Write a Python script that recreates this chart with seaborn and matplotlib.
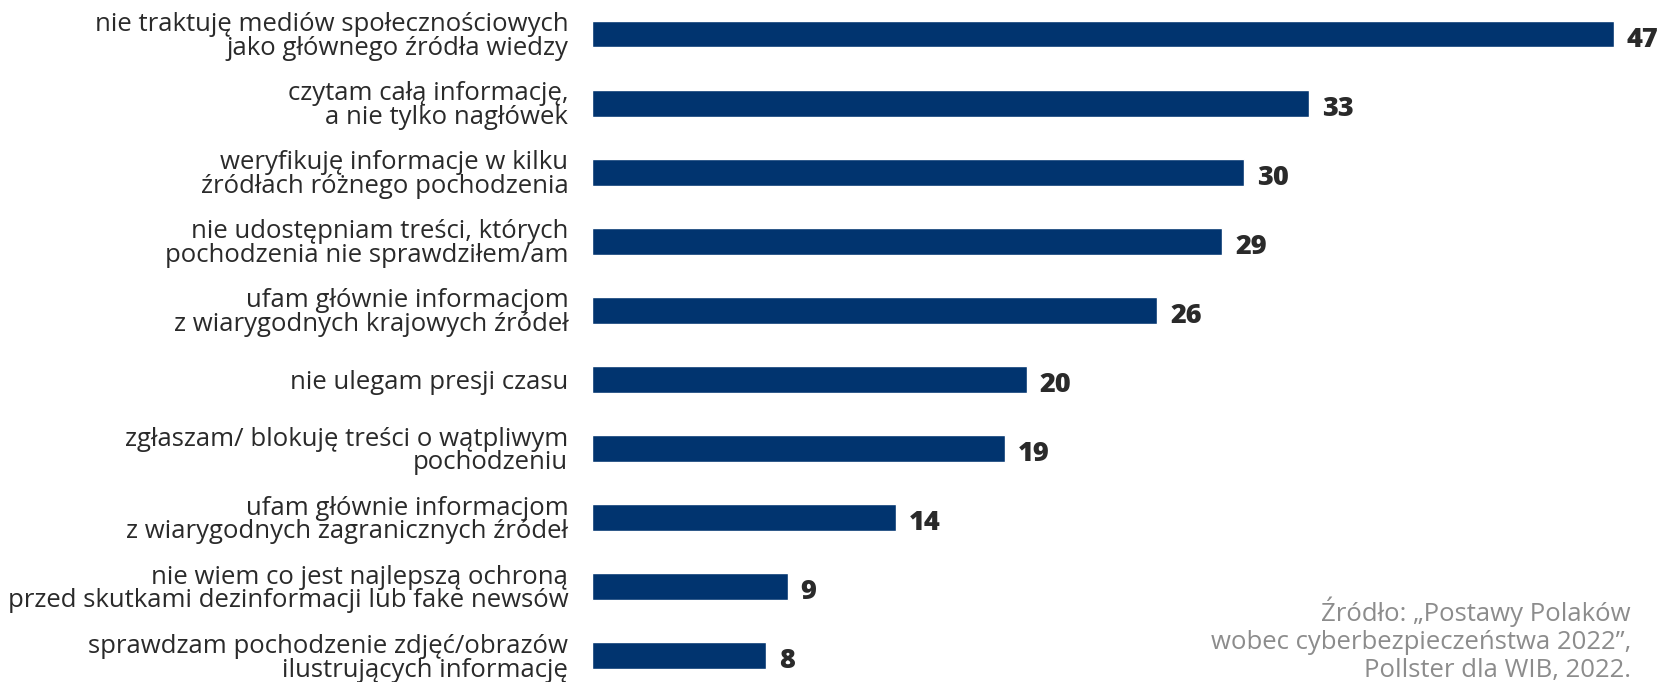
import matplotlib.pyplot as plt
import pandas as pd
import seaborn as sns

categories = [
    "nie traktuję mediów społecznościowych\njako głównego źródła wiedzy",
    "czytam całą informację,\na nie tylko nagłówek",
    "weryfikuję informacje w kilku\nźródłach różnego pochodzenia",
    "nie udostępniam treści, których\npochodzenia nie sprawdziłem/am",
    "ufam głównie informacjom\nz wiarygodnych krajowych źródeł",
    "nie ulegam presji czasu",
    "zgłaszam/ blokuję treści o wątpliwym\npochodzeniu",
    "ufam głównie informacjom\nz wiarygodnych zagranicznych źródeł",
    "nie wiem co jest najlepszą ochroną\nprzed skutkami dezinformacji lub fake newsów",
    "sprawdzam pochodzenie zdjęć/obrazów\nilustrujących informację",
]
values = [47, 33, 30, 29, 26, 20, 19, 14, 9, 8]
source_text = "Źródło: „Postawy Polaków\nwobec cyberbezpieczeństwa 2022”,\nPollster dla WIB, 2022."

BAR_COLOR = "#01346F"
TEXT_COLOR = "#2a2a2a"

df = pd.DataFrame({"category": categories, "value": values})

sns.set_theme(style="white")
plt.rcParams["font.family"] = ["Open Sans", "DejaVu Sans"]

fig = plt.figure(figsize=(16.61, 6.82), dpi=100)
ax = fig.add_axes([0.3564, 0.0, 0.6412, 1.0])

sns.barplot(data=df, x="value", y="category", color=BAR_COLOR, width=0.39,
            saturation=1, ax=ax)

ax.set_xlim(0, 49)
ax.set_ylim(9.378, -0.492)
ax.set_xlabel("")
ax.set_ylabel("")
ax.set_xticks([])
sns.despine(ax=ax, left=True, bottom=True)
ax.tick_params(axis="y", length=0, pad=17)
for lbl in ax.get_yticklabels():
    lbl.set_fontsize(18.5)
    lbl.set_color(TEXT_COLOR)
    lbl.set_linespacing(0.93)
    lbl.set_horizontalalignment("right")
    lbl.set_multialignment("right")

for i, v in enumerate(values):
    ax.text(v + 0.6, i + 0.08, str(v), ha="left", va="center",
            fontsize=19.5, fontweight="extra bold", color=TEXT_COLOR)

fig.text(1631 / 1661, 1 - 640 / 682, source_text, ha="right", va="center",
         fontsize=18.5, color="#8c8c8c", linespacing=1.15, multialignment="right")

fig.savefig("out.png", dpi=100)
